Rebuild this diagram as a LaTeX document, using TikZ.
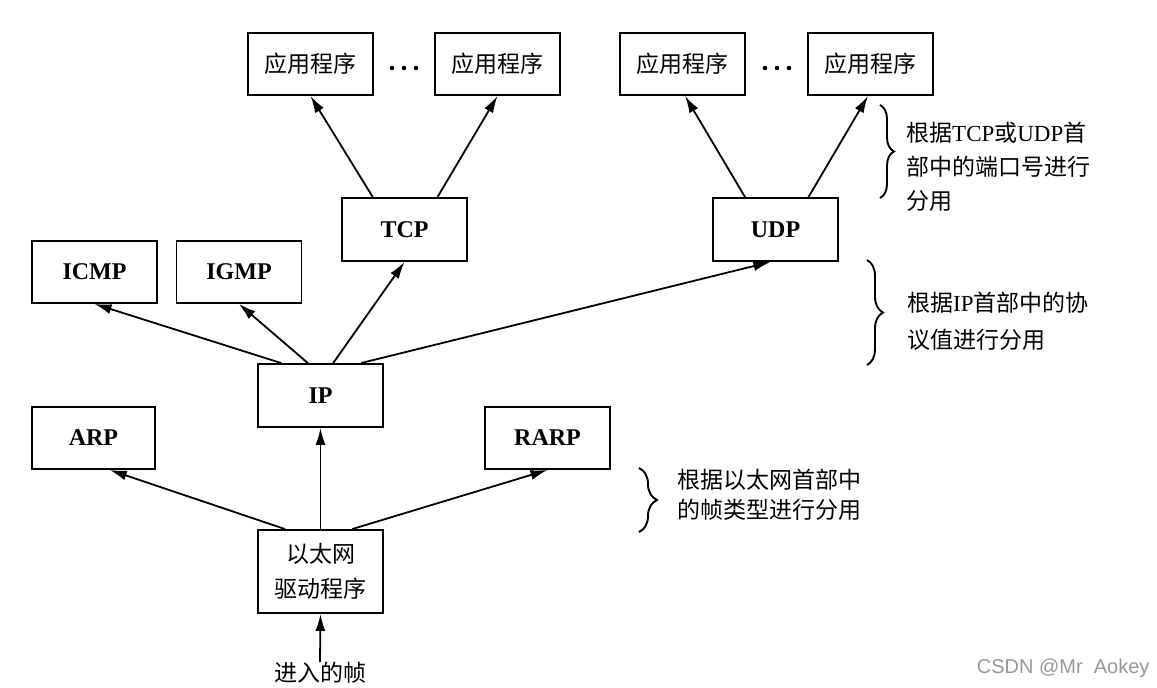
\documentclass[tikz,border=0pt]{standalone}
\usepackage{fontspec}
\setmainfont{Liberation Serif}
\newfontfamily\cjk{Noto Sans CJK SC}
\newfontfamily\wmfont{Liberation Sans}
\usetikzlibrary{arrows.meta,calc,decorations.pathreplacing}
\begin{document}
\begin{tikzpicture}[x=1pt,y=-1pt,
  box/.style={draw, line width=1.9pt, minimum width=125pt, minimum height=62pt, inner sep=0pt},
  lbl/.style={font=\fontsize{24}{28}\selectfont\bfseries},
  cn/.style={font=\fontsize{23}{35}\selectfont\cjk},
  arr/.style={-{Latex[length=17pt,width=10pt]}, line width=1.8pt},
  brc/.style={decorate, decoration={brace, amplitude=#1}, line width=1.9pt},
  note/.style={anchor=west, align=left, inner sep=0pt},
  dot/.style={circle, fill, inner sep=0pt, minimum size=4.6pt}
]
\useasboundingbox (0,0) rectangle (1157,688);

% application boxes
\node[box,cn] (app1) at (310.5,64) {应用程序};
\node[box,cn] (app2) at (497.5,64) {应用程序};
\node[box,cn] (app3) at (682.5,64) {应用程序};
\node[box,cn] (app4) at (870.5,64) {应用程序};
\node[dot] (d1a) at (392,68) {};
\node[dot] (d1b) at (404,68) {};
\node[dot] (d1c) at (416,68) {};
\node[dot] (d2a) at (765,68) {};
\node[dot] (d2b) at (777,68) {};
\node[dot] (d2c) at (789,68) {};

% transport
\node[box,lbl,minimum height=63pt] (tcp) at (404.5,229.5) {TCP};
\node[box,lbl,minimum height=63pt] (udp) at (775.5,229.5) {UDP};

% network
\node[box,lbl] (icmp) at (94.5,272) {ICMP};
\node[box,lbl] (igmp) at (239,272) {IGMP};
\node[box,lbl,minimum height=63pt] (ip) at (320.5,395.5) {IP};
\node[box,lbl,minimum width=123pt] (arp) at (93.5,438) {ARP};
\node[box,lbl] (rarp) at (547.5,438) {RARP};

% link
\node[box,cn,minimum height=83pt,align=center] (eth) at (320.5,571.5) {以太网\\驱动程序};
\node[cn,inner sep=0pt] (in) at (320,673) {进入的帧};

% arrows
\draw[arr] (in.north) -- (eth.south);
\draw[arr] ($(eth.north west)!0.22!(eth.north east)$) -- ($(arp.south west)!0.63!(arp.south east)$);
\draw[arr] (eth.north) -- (ip.south);
\draw[arr] ($(eth.north west)!0.75!(eth.north east)$) -- (rarp.south);

\draw[arr] ($(ip.north west)!0.19!(ip.north east)$) -- (icmp.south);
\draw[arr] ($(ip.north west)!0.40!(ip.north east)$) -- (igmp.south);
\draw[arr] ($(ip.north west)!0.60!(ip.north east)$) -- (tcp.south);
\draw[arr] ($(ip.north west)!0.82!(ip.north east)$) -- ($(udp.south west)!0.46!(udp.south east)$);

\draw[arr] ($(tcp.north west)!0.25!(tcp.north east)$) -- (app1.south);
\draw[arr] ($(tcp.north west)!0.76!(tcp.north east)$) -- (app2.south);
\draw[arr] ($(udp.north west)!0.26!(udp.north east)$) -- ($(app3.south west)!0.52!(app3.south east)$);
\draw[arr] ($(udp.north west)!0.76!(udp.north east)$) -- ($(app4.south west)!0.48!(app4.south east)$);

% braces and notes
\draw[brc=14pt] (880,105) -- (880,198);
\node[note,font=\fontsize{23}{34}\selectfont] (n1) at (906,167)
  {{\cjk 根据}TCP{\cjk 或}UDP{\cjk 首}\\{\cjk 部中的端口号进行}\\{\cjk 分用}};

\draw[brc=16pt] (867,260) -- (867,365);
\node[note,font=\fontsize{23}{37}\selectfont] (n2) at (907,321.5)
  {{\cjk 根据}IP{\cjk 首部中的协}\\{\cjk 议值进行分用}};

\draw[brc=18pt] (639,468) -- (639,532);
\node[note,font=\fontsize{23}{30}\selectfont\cjk] (n3) at (677,495)
  {根据以太网首部中\\的帧类型进行分用};

% watermark
\node[font=\wmfont\fontsize{20}{20}\selectfont, text=gray!80, anchor=east] (wm) at (1153,668) {CSDN @Mr\ \ Aokey};
\end{tikzpicture}
\end{document}
